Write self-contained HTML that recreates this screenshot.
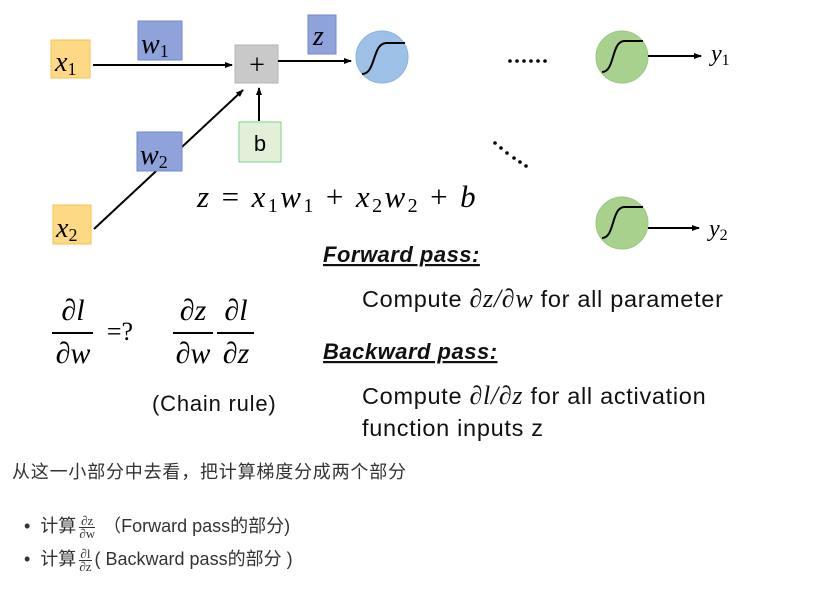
<!DOCTYPE html>
<html><head><meta charset="utf-8"><style>
body{margin:0;width:837px;height:605px;background:#fff;overflow:hidden;position:relative}
svg{position:absolute;left:0;top:0}
.cn{position:absolute;font-family:"Liberation Sans","Noto Sans CJK SC",sans-serif;color:#333;font-size:18px;white-space:nowrap}
.fr{display:inline-block;vertical-align:middle;text-align:center;font-family:"Liberation Serif",serif;font-size:13px;line-height:12px;margin:0 3px}
.fr span{display:block}
.fr .n{border-bottom:1px solid #333}
</style></head><body>
<svg width="837" height="445" viewBox="0 0 837 445" font-family="Liberation Serif, serif">
<defs><marker id="a" markerWidth="8" markerHeight="8" refX="7" refY="4" orient="auto" markerUnits="userSpaceOnUse"><path d="M0,1 L8,4 L0,7 z" fill="#000"/></marker></defs>
<line x1="94" y1="229" x2="243" y2="90" stroke="#000" stroke-width="2" marker-end="url(#a)"/>
<rect x="51" y="40" width="39" height="38" fill="#fed985" stroke="#f3c14e"/>
<text x="55" y="71" font-size="28" font-style="italic">x<tspan font-size="18" font-style="normal" dy="4">1</tspan></text>
<rect x="138" y="21" width="44" height="39" fill="#8fa2da" stroke="#6f88cf"/>
<text x="141" y="53" font-size="28" font-style="italic">w<tspan font-size="18" font-style="normal" dy="4">1</tspan></text>
<rect x="53" y="205" width="38" height="39" fill="#fed985" stroke="#f3c14e"/>
<text x="56" y="237" font-size="28" font-style="italic">x<tspan font-size="18" font-style="normal" dy="4">2</tspan></text>
<rect x="137" y="132" width="45" height="39" fill="#8fa2da" stroke="#6f88cf"/>
<text x="140" y="164" font-size="28" font-style="italic">w<tspan font-size="18" font-style="normal" dy="4">2</tspan></text>
<rect x="235" y="45" width="43" height="38" fill="#c9c9c9" stroke="#b5b5b5"/>
<text x="257" y="74" font-size="28" text-anchor="middle">+</text>
<rect x="308" y="15" width="28" height="39" fill="#8fa2da" stroke="#6f88cf"/>
<text x="313" y="45" font-size="28" font-style="italic">z</text>
<rect x="239" y="122" width="42" height="40" fill="#e2f0d9" stroke="#7fd38a"/>
<text x="260" y="151" font-size="22" font-family="Liberation Sans, sans-serif" text-anchor="middle">b</text>
<line x1="93" y1="65" x2="232" y2="65" stroke="#000" stroke-width="2" marker-end="url(#a)"/>
<line x1="278" y1="61" x2="351" y2="61" stroke="#000" stroke-width="2" marker-end="url(#a)"/>
<line x1="259" y1="121" x2="259" y2="88" stroke="#000" stroke-width="2" marker-end="url(#a)"/>
<circle cx="382" cy="57" r="26" fill="#9dc0e6" stroke="#8ab3e0"/>
<path d="M362,74 C376,74 372,44 386,43 L405,43" fill="none" stroke="#000" stroke-width="2"/>
<circle cx="622" cy="57" r="26" fill="#a9d18e" stroke="#9cc880"/>
<path d="M602,72 C615,72 611,42 624,41 L643,41" fill="none" stroke="#000" stroke-width="2"/>
<line x1="648" y1="56" x2="701" y2="56" stroke="#000" stroke-width="2" marker-end="url(#a)"/>
<text x="711" y="61" font-size="24" font-style="italic">y<tspan font-size="16" font-style="normal" dy="4">1</tspan></text>
<circle cx="622" cy="223" r="26" fill="#a9d18e" stroke="#9cc880"/>
<path d="M602,238 C615,238 611,208 624,207 L643,207" fill="none" stroke="#000" stroke-width="2"/>
<line x1="648" y1="228" x2="699" y2="228" stroke="#000" stroke-width="2" marker-end="url(#a)"/>
<text x="709" y="236" font-size="24" font-style="italic">y<tspan font-size="16" font-style="normal" dy="4">2</tspan></text>
<g fill="#000"><circle cx="510" cy="61" r="1.8"/><circle cx="517" cy="61" r="1.8"/><circle cx="524" cy="61" r="1.8"/><circle cx="531" cy="61" r="1.8"/><circle cx="538" cy="61" r="1.8"/><circle cx="545" cy="61" r="1.8"/>
<circle cx="495" cy="143" r="1.8"/><circle cx="501" cy="148" r="1.8"/><circle cx="507" cy="153" r="1.8"/><circle cx="514" cy="158" r="1.8"/><circle cx="520" cy="162" r="1.8"/><circle cx="526" cy="166" r="1.8"/></g>
<text x="197" y="207" font-size="31" font-style="italic" letter-spacing="2.4">z <tspan font-style="normal">=</tspan> x<tspan font-size="20" font-style="normal" dy="5">1</tspan><tspan dy="-5">w</tspan><tspan font-size="20" font-style="normal" dy="5">1</tspan><tspan font-style="normal" dy="-5"> + </tspan>x<tspan font-size="20" font-style="normal" dy="5">2</tspan><tspan dy="-5">w</tspan><tspan font-size="20" font-style="normal" dy="5">2</tspan><tspan font-style="normal" dy="-5"> + </tspan>b</text>
<g font-family="Liberation Sans, sans-serif" font-size="22" fill="#111">
<text x="323" y="262" font-weight="bold" font-style="italic" text-decoration="underline" letter-spacing="0.5">Forward pass:</text>
<text x="323" y="359" font-weight="bold" font-style="italic" text-decoration="underline" letter-spacing="0.5">Backward pass:</text>
<g font-size="23.5" letter-spacing="0.7">
<text x="362" y="307">Compute <tspan font-family="Liberation Serif, serif" font-style="italic" font-size="26">∂z/∂w</tspan> for all parameter</text>
<text x="362" y="404">Compute <tspan font-family="Liberation Serif, serif" font-style="italic" font-size="26">∂l/∂z</tspan> for all activation</text>
<text x="362" y="436">function inputs z</text>
</g>
<text x="152" y="411" letter-spacing="0.8">(Chain rule)</text>
</g>
<g font-size="30" font-style="italic" text-anchor="middle">
<text x="73" y="320">∂l</text><line x1="52" y1="333" x2="93" y2="333" stroke="#000" stroke-width="2"/><text x="73" y="363">∂w</text>
<text x="120" y="340" font-style="normal" font-size="26">=?</text>
<text x="193" y="320">∂z</text><line x1="173" y1="333" x2="213" y2="333" stroke="#000" stroke-width="2"/><text x="193" y="363">∂w</text>
<text x="236" y="320">∂l</text><line x1="217" y1="333" x2="254" y2="333" stroke="#000" stroke-width="2"/><text x="236" y="363">∂z</text>
</g>
</svg>
<div class="cn" style="left:12px;top:458px;font-size:18px;letter-spacing:0.8px">从这一小部分中去看，把计算梯度分成两个部分</div>
<div class="cn" style="left:24px;top:512px">•&nbsp;&nbsp;计算<span class="fr"><span class="n">∂z</span><span>∂w</span></span> （Forward pass的部分)</div>
<div class="cn" style="left:24px;top:545px">•&nbsp;&nbsp;计算<span class="fr"><span class="n">∂l</span><span>∂z</span></span>( Backward pass的部分 )</div>
</body></html>
